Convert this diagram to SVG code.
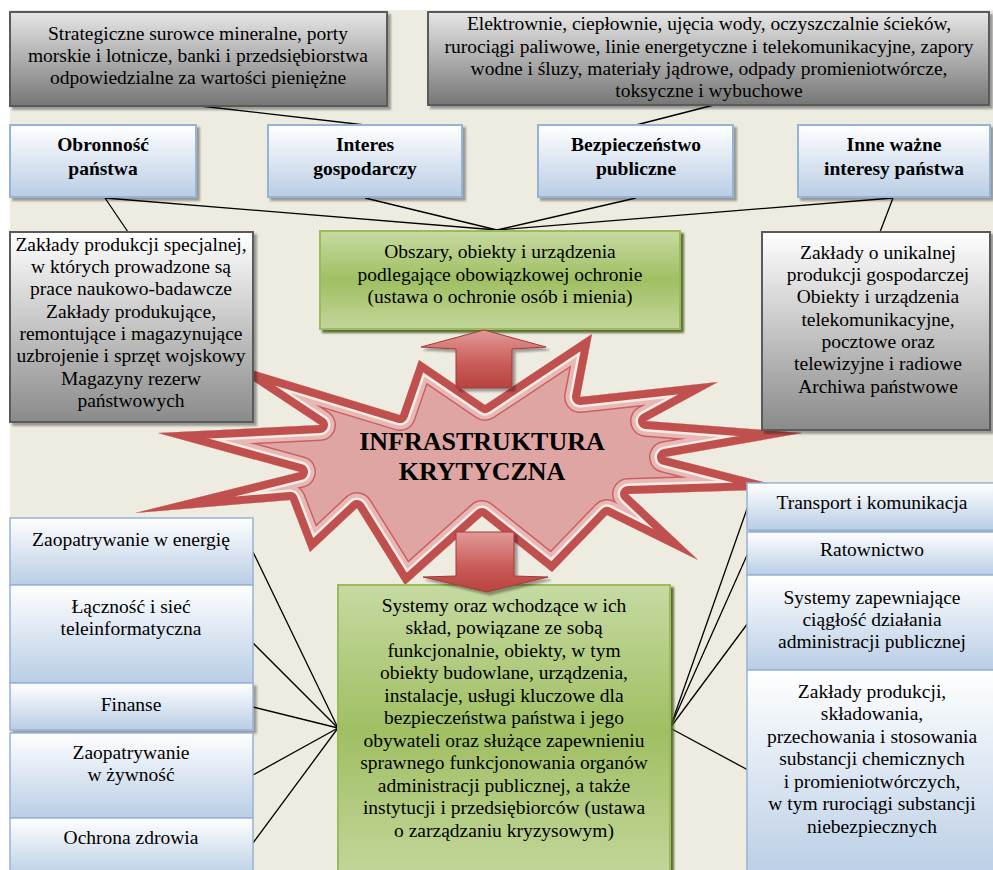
<svg xmlns="http://www.w3.org/2000/svg" width="993" height="870" viewBox="0 0 993 870">
<defs>
<style>
.t{font-family:"Liberation Serif","Times New Roman",serif;font-size:19.5px;text-anchor:middle;fill:#000}
.b{font-weight:bold}
.big{font-size:26px;font-weight:bold}
.gT{fill:url(#gTop);stroke:#5a5a5a;stroke-width:2;filter:url(#sh)}
.gM{fill:url(#gMid);stroke:#5a5a5a;stroke-width:2;filter:url(#sh)}
.bl{fill:url(#blue);stroke:#95b3d7;stroke-width:2;filter:url(#sh)}
.col{fill:url(#blue);stroke:#95b3d7;stroke-width:1.5}
.gr{fill:url(#green);stroke:#9bbb59;stroke-width:2;filter:url(#shg)}
.ln{stroke:#000;stroke-width:1.3;fill:none}
</style>
<linearGradient id="gTop" x1="0" y1="0" x2="0" y2="1"><stop offset="0" stop-color="#e6e6e6"/><stop offset="1" stop-color="#767676"/></linearGradient>
<linearGradient id="gMid" x1="0" y1="0" x2="0" y2="1"><stop offset="0" stop-color="#ffffff"/><stop offset="1" stop-color="#8a8a8a"/></linearGradient>
<linearGradient id="blue" x1="0" y1="0" x2="0" y2="1"><stop offset="0" stop-color="#ffffff"/><stop offset="1" stop-color="#b9cde5"/></linearGradient>
<linearGradient id="green" x1="0" y1="0" x2="0" y2="1"><stop offset="0" stop-color="#c6daa2"/><stop offset="0.5" stop-color="#a0bf62"/><stop offset="1" stop-color="#c3d69b"/></linearGradient>
<linearGradient id="arr" x1="0" y1="0" x2="0" y2="1"><stop offset="0" stop-color="#e29a98"/><stop offset="0.6" stop-color="#c85a57"/><stop offset="1" stop-color="#b8433f"/></linearGradient>
<filter id="sh" x="-5%" y="-5%" width="115%" height="120%"><feDropShadow dx="3" dy="3" stdDeviation="1" flood-color="#000" flood-opacity="0.35"/></filter>
<filter id="shg" x="-5%" y="-5%" width="115%" height="120%"><feDropShadow dx="3" dy="3" stdDeviation="0.8" flood-color="#4f6228" flood-opacity="0.9"/></filter>
<polygon id="starP" points="419,360 485,405 592,334 580,397 718,382 646,421 802,433 665,457 790,489 628,494 698,560 607,515 552,572 482,516 405,585 357,508 310,552 290,500 135,513 300,472 158,433 320,425 225,362 400,415"/>
<clipPath id="starClip"><use href="#starP"/></clipPath>
</defs>
<rect width="993" height="870" fill="#ffffff"/>
<rect x="10" y="10" width="983" height="860" fill="#eeece1"/>

<g id="star">
<use href="#starP" fill="#dea5a3"/>
<g clip-path="url(#starClip)" fill="none" stroke-linejoin="round">
<use href="#starP" stroke="#c9625f" stroke-width="32"/>
<use href="#starP" stroke="#e9b8b6" stroke-width="29"/>
<use href="#starP" stroke="#f6ece6" stroke-width="21"/>
<use href="#starP" stroke="#c0504d" stroke-width="16"/>
</g>
<text class="t big" x="482" y="450">INFRASTRUKTURA</text>
<text class="t big" x="482" y="480">KRYTYCZNA</text>
</g>

<g id="connectors">
<line class="ln" x1="200" y1="106" x2="365" y2="125"/>
<line class="ln" x1="714" y1="105" x2="636" y2="125"/>
<line class="ln" x1="105" y1="198" x2="497" y2="230"/>
<line class="ln" x1="105" y1="198" x2="128" y2="232"/>
<line class="ln" x1="365" y1="198" x2="497" y2="230"/>
<line class="ln" x1="636" y1="198" x2="497" y2="230"/>
<line class="ln" x1="893" y1="198" x2="497" y2="230"/>
<line class="ln" x1="893" y1="198" x2="880" y2="232"/>
<line class="ln" x1="253" y1="552" x2="338" y2="728"/>
<line class="ln" x1="253" y1="643" x2="338" y2="728"/>
<line class="ln" x1="253" y1="707" x2="338" y2="728"/>
<line class="ln" x1="253" y1="775" x2="338" y2="728"/>
<line class="ln" x1="253" y1="843" x2="338" y2="728"/>
<line class="ln" x1="670" y1="728" x2="748" y2="506"/>
<line class="ln" x1="670" y1="728" x2="748" y2="553"/>
<line class="ln" x1="670" y1="728" x2="748" y2="623"/>
<line class="ln" x1="670" y1="728" x2="748" y2="770"/>
</g>

<g id="n-top-left">
<rect class="gT" x="10" y="12" width="377" height="94"/>
<text class="t" x="198" y="40">Strategiczne surowce mineralne, porty</text>
<text class="t" x="198" y="62">morskie i lotnicze, banki i przedsiębiorstwa</text>
<text class="t" x="198" y="84">odpowiedzialne za wartości pieniężne</text>
</g>
<g id="n-top-right">
<rect class="gT" x="428" y="12" width="561" height="93"/>
<text class="t" x="709" y="30">Elektrownie, ciepłownie, ujęcia wody, oczyszczalnie ścieków,</text>
<text class="t" x="709" y="53">rurociągi paliwowe, linie energetyczne i telekomunikacyjne, zapory</text>
<text class="t" x="709" y="75">wodne i śluzy, materiały jądrowe, odpady promieniotwórcze,</text>
<text class="t" x="709" y="97">toksyczne i wybuchowe</text>
</g>

<g id="n-obronnosc">
<rect class="bl" x="10" y="125" width="186" height="72"/>
<text class="t b" x="103" y="151">Obronność</text>
<text class="t b" x="103" y="175">państwa</text>
</g>
<g id="n-interes">
<rect class="bl" x="268" y="125" width="194" height="72"/>
<text class="t b" x="365" y="151">Interes</text>
<text class="t b" x="365" y="175">gospodarczy</text>
</g>
<g id="n-bezpieczenstwo">
<rect class="bl" x="538" y="125" width="195" height="72"/>
<text class="t b" x="636" y="151">Bezpieczeństwo</text>
<text class="t b" x="636" y="175">publiczne</text>
</g>
<g id="n-inne">
<rect class="bl" x="798" y="125" width="192" height="72"/>
<text class="t b" x="894" y="151">Inne ważne</text>
<text class="t b" x="894" y="175">interesy państwa</text>
</g>

<g id="n-obszary">
<rect class="gr" x="320" y="231" width="360" height="98"/>
<text class="t" x="500" y="258">Obszary, obiekty i urządzenia</text>
<text class="t" x="500" y="281">podlegające obowiązkowej ochronie</text>
<text class="t" x="500" y="303">(ustawa o ochronie osób i mienia)</text>
</g>

<g id="n-left-gray">
<rect class="gM" x="10" y="232" width="243" height="190"/>
<text class="t" x="131" y="251">Zakłady produkcji specjalnej,</text>
<text class="t" x="131" y="273">w których prowadzone są</text>
<text class="t" x="131" y="295">prace naukowo-badawcze</text>
<text class="t" x="131" y="318">Zakłady produkujące,</text>
<text class="t" x="131" y="340">remontujące i magazynujące</text>
<text class="t" x="131" y="362">uzbrojenie i sprzęt wojskowy</text>
<text class="t" x="131" y="385">Magazyny rezerw</text>
<text class="t" x="131" y="407">państwowych</text>
</g>

<g id="n-right-gray">
<rect class="gM" x="762" y="232" width="228" height="198"/>
<text class="t" x="878" y="259">Zakłady o unikalnej</text>
<text class="t" x="878" y="281">produkcji gospodarczej</text>
<text class="t" x="878" y="303">Obiekty i urządzenia</text>
<text class="t" x="878" y="326">telekomunikacyjne,</text>
<text class="t" x="878" y="348">pocztowe oraz</text>
<text class="t" x="878" y="370">telewizyjne i radiowe</text>
<text class="t" x="878" y="393">Archiwa państwowe</text>
</g>

<g id="n-energia">
<rect class="col" x="10" y="518" width="243" height="67"/>
<text class="t" x="131" y="546">Zaopatrywanie w energię</text>
</g>
<g id="n-lacznosc">
<rect class="col" x="10" y="585" width="243" height="98"/>
<text class="t" x="131" y="613">Łączność i sieć</text>
<text class="t" x="131" y="635">teleinformatyczna</text>
</g>
<g id="n-finanse">
<rect class="col" x="10" y="683" width="243" height="47" filter="url(#sh)"/>
<text class="t" x="131" y="711">Finanse</text>
</g>
<g id="n-zywnosc">
<rect class="col" x="10" y="733" width="243" height="85"/>
<text class="t" x="131" y="759">Zaopatrywanie</text>
<text class="t" x="131" y="781">w żywność</text>
</g>
<g id="n-zdrowie">
<rect class="col" x="10" y="818" width="243" height="60"/>
<text class="t" x="131" y="844">Ochrona zdrowia</text>
</g>

<g id="n-transport">
<rect class="col" x="747" y="483" width="252" height="47" filter="url(#sh)"/>
<text class="t" x="872" y="509">Transport i komunikacja</text>
</g>
<g id="n-ratownictwo">
<rect class="col" x="747" y="532" width="252" height="43"/>
<text class="t" x="872" y="556">Ratownictwo</text>
</g>
<g id="n-systemy-admin">
<rect class="col" x="747" y="575" width="252" height="95"/>
<text class="t" x="872" y="604">Systemy zapewniające</text>
<text class="t" x="872" y="626">ciągłość działania</text>
<text class="t" x="872" y="648">administracji publicznej</text>
</g>
<g id="n-zaklady-chem">
<rect class="col" x="747" y="670" width="252" height="210"/>
<text class="t" x="872" y="698">Zakłady produkcji,</text>
<text class="t" x="872" y="720">składowania,</text>
<text class="t" x="872" y="743">przechowania i stosowania</text>
<text class="t" x="872" y="765">substancji chemicznych</text>
<text class="t" x="872" y="788">i promieniotwórczych,</text>
<text class="t" x="872" y="810">w tym rurociągi substancji</text>
<text class="t" x="872" y="833">niebezpiecznych</text>
</g>

<g id="n-systemy">
<rect class="gr" x="338" y="585" width="332" height="292"/>
<text class="t" x="504" y="612">Systemy oraz wchodzące w ich</text>
<text class="t" x="504" y="634">skład, powiązane ze sobą</text>
<text class="t" x="504" y="657">funkcjonalnie, obiekty, w tym</text>
<text class="t" x="504" y="679">obiekty budowlane, urządzenia,</text>
<text class="t" x="504" y="702">instalacje, usługi kluczowe dla</text>
<text class="t" x="504" y="724">bezpieczeństwa państwa i jego</text>
<text class="t" x="504" y="747">obywateli oraz służące zapewnieniu</text>
<text class="t" x="504" y="769">sprawnego funkcjonowania organów</text>
<text class="t" x="504" y="792">administracji publicznej, a także</text>
<text class="t" x="504" y="814">instytucji i przedsiębiorców (ustawa</text>
<text class="t" x="504" y="837">o zarządzaniu kryzysowym)</text>
</g>

<g id="arrows" fill="url(#arr)" stroke="#a13a37" stroke-width="1" filter="url(#sh)">
<path d="M484,330 L546,347 L512,349 L512,388 L456,388 L456,349 L421,347 Z"/>
<path d="M456,532 L514,532 L514,576 L548,577 L487,592 L423,577 L456,576 Z"/>
</g>
</svg>
